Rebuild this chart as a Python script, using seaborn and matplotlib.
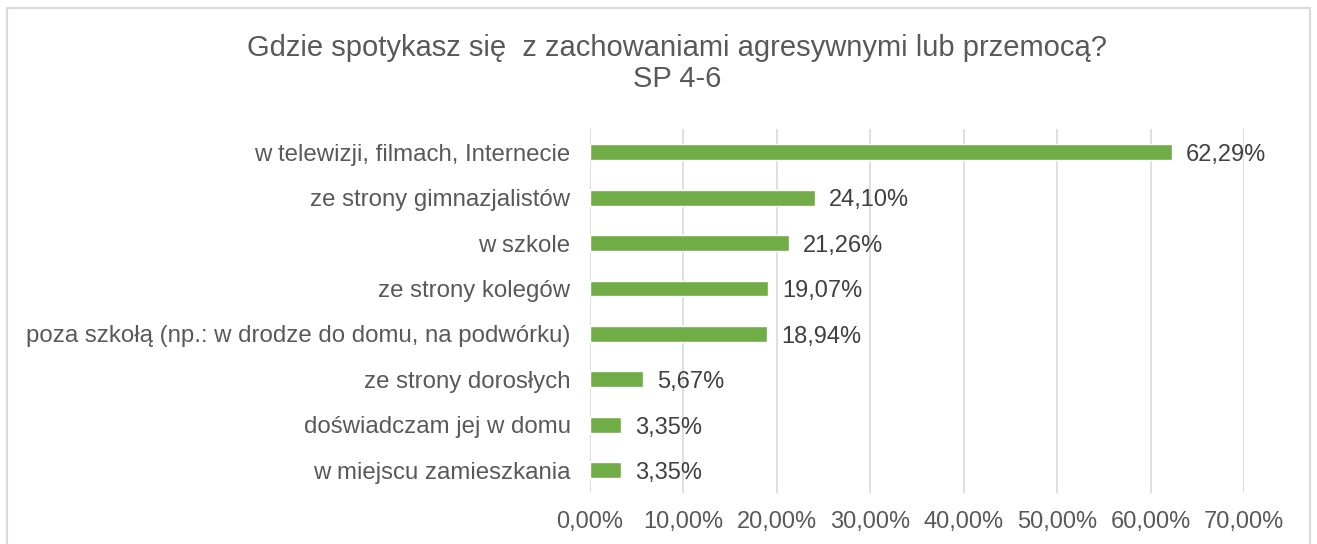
import matplotlib
matplotlib.use("Agg")
import matplotlib.pyplot as plt
import seaborn as sns
import pandas as pd
from matplotlib.patches import Rectangle

categories = [
    "w telewizji, filmach, Internecie",
    "ze strony gimnazjalistów",
    "w szkole",
    "ze strony kolegów",
    "poza szkołą (np.: w drodze do domu, na podwórku)",
    "ze strony dorosłych",
    "doświadczam jej w domu",
    "w miejscu zamieszkania",
]
values = [62.29, 24.10, 21.26, 19.07, 18.94, 5.67, 3.35, 3.35]
x_ticks = [0, 10, 20, 30, 40, 50, 60, 70]

df = pd.DataFrame({"category": categories, "value": values})

sns.set_style("white")
plt.rcParams["font.family"] = ["Liberation Sans", "DejaVu Sans"]

text_color = "#595959"
green = "#70AD47"

fig = plt.figure(figsize=(13.17, 5.44), dpi=100)
ax = fig.add_axes([590 / 1317, 0.094, 654 / 1317, 0.668])

sns.barplot(data=df, x="value", y="category", color=green, width=0.35,
            saturation=1, ax=ax)

# data labels next to bar ends
for i, v in enumerate(values):
    ax.annotate(f"{v:.2f}%".replace(".", ","), xy=(v, i), xytext=(10, -2),
                textcoords="offset points", va="center", ha="left",
                fontsize=17, color="#404040")

ax.set_xlim(0, 70)
ax.set_ylim(7.5, -0.5)
ax.set_xticks(x_ticks)
ax.set_xticklabels([f"{t:.2f}%".replace(".", ",") for t in x_ticks])
ax.grid(axis="x", color="#D9D9D9", linewidth=1.2)
ax.set_axisbelow(True)
for s in ax.spines.values():
    s.set_visible(False)
ax.set_xlabel("")
ax.set_ylabel("")
ax.tick_params(axis="x", length=0, labelsize=17, labelcolor=text_color, pad=13)
ax.tick_params(axis="y", length=0, labelsize=17.3, labelcolor=text_color, pad=14)

fig.text(0.5144, 0.912, "Gdzie spotykasz się  z zachowaniami agresywnymi lub przemocą?",
         ha="center", va="center", fontsize=21, color=text_color)
fig.text(0.5144, 0.854, "SP 4-6", ha="center", va="center", fontsize=21, color=text_color)

fig.patches.append(Rectangle((7 / 1317, -0.01), 1303 / 1317, 1 - 8 / 544 + 0.01,
                             transform=fig.transFigure, fill=False,
                             edgecolor="#D9D9D9", linewidth=1.5))

fig.savefig("out.png", dpi=100, facecolor="white")
